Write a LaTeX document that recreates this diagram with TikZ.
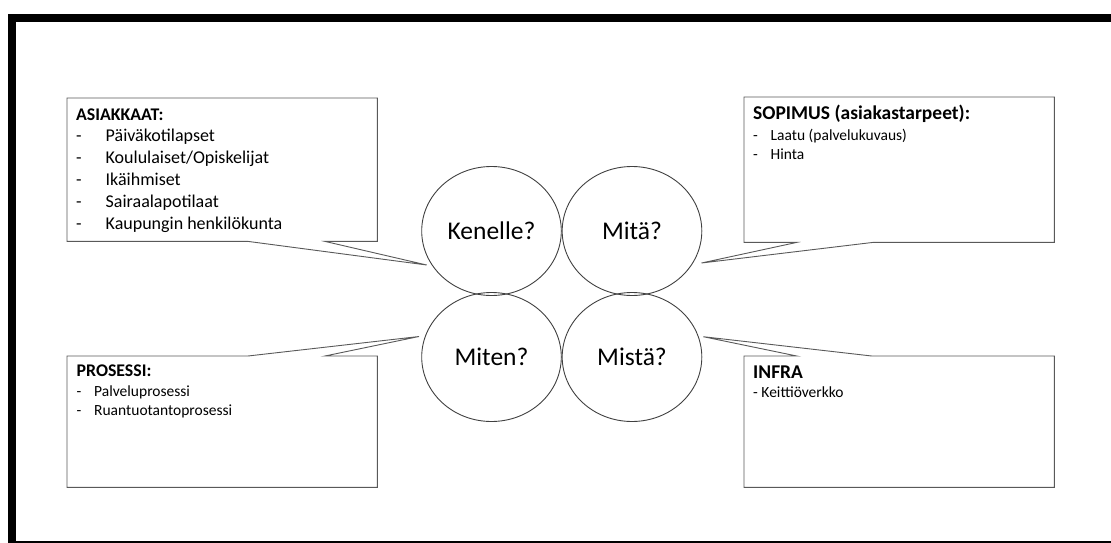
\documentclass[tikz,border=0pt]{standalone}
\usepackage{fontspec}
\setmainfont{Carlito}
\usetikzlibrary{calc,shapes.geometric}

\begin{document}
\begin{tikzpicture}[x=1pt,y=-1pt,
  question/.style={ellipse,draw=black!75,line width=0.9pt,minimum width=139.6pt,
    minimum height=129pt,inner sep=0pt,font=\fontsize{25.5}{30}\selectfont},
  card/.style={draw=none,fill=white,minimum width=310pt,inner sep=0pt,anchor=north west},
  outline/.style={draw=black!65,line width=0.9pt,fill=white,line join=miter},
  line/.style={anchor=base west,inner sep=0pt},
  big/.style={font=\fontsize{18}{22}\selectfont},
  bighead/.style={font=\bfseries\fontsize{17.8}{22}\selectfont},
  head/.style={font=\bfseries\fontsize{19.5}{22}\selectfont},
  small/.style={font=\fontsize{15.5}{18}\selectfont},
]
\useasboundingbox (0,0) rectangle (1111,543);
\clip (0,0) rectangle (1111,543);

% outer frame
\draw[line width=8pt] (12.2,18) rectangle (1125,544.7);

% four question bubbles
\node[question] (ken) at (491.5,231) {Kenelle?};
\node[question] (mit) at (632,231) {Mitä?};
\node[question] (mtn) at (491.5,357) {Miten?};
\node[question] (mst) at (632,357) {Mistä?};

% callout tips
\coordinate (tk) at (426.7,265);
\coordinate (tm) at (701.5,263);
\coordinate (tn) at (419,336.5);
\coordinate (ts) at (703.3,336.7);

% ASIAKKAAT callout
\node[card,minimum height=143pt] (asi) at (67,98) {};
\draw[outline] (asi.north west) -- (asi.north east) -- (asi.south east)
  -- ($(asi.south west)+(258,0)$) -- (tk) -- ($(asi.south west)+(181,0)$)
  -- (asi.south west) -- cycle;
\node[line,bighead] (asi0) at (76,120) {ASIAKKAAT:};
\node[line,big] (asi1) at (76,141.5) {\makebox[29.5pt][l]{-}Päiväkotilapset};
\node[line,big] (asi2) at (76,163.5) {\makebox[29.5pt][l]{-}Koululaiset/Opiskelijat};
\node[line,big] (asi3) at (76,185.5) {\makebox[29.5pt][l]{-}Ikäihmiset};
\node[line,big] (asi4) at (76,207.5) {\makebox[29.5pt][l]{-}Sairaalapotilaat};
\node[line,big] (asi5) at (76,229.5) {\makebox[29.5pt][l]{-}Kaupungin henkilökunta};

% SOPIMUS callout
\node[card,minimum height=145pt] (sop) at (744,97) {};
\draw[outline] (sop.north west) -- (sop.north east) -- (sop.south east)
  -- ($(sop.south west)+(129,0)$) -- (tm) -- ($(sop.south west)+(52.7,0)$)
  -- (sop.south west) -- cycle;
\node[line,head] (sop0) at (753,119.7) {SOPIMUS (asiakastarpeet):};
\node[line,small] (sop1) at (753,140.5) {\makebox[17.5pt][l]{-}Laatu (palvelukuvaus)};
\node[line,small] (sop2) at (753,159.2) {\makebox[17.5pt][l]{-}Hinta};

% PROSESSI callout
\node[card,minimum height=131pt] (pro) at (67,356) {};
\draw[outline] (pro.south west) -- (pro.south east) -- (pro.north east)
  -- ($(pro.north west)+(258,0)$) -- (tn) -- ($(pro.north west)+(181,0)$)
  -- (pro.north west) -- cycle;
\node[line,bighead] (pro0) at (76.5,376.7) {PROSESSI:};
\node[line,small] (pro1) at (76.5,396.7) {\makebox[17.5pt][l]{-}Palveluprosessi};
\node[line,small] (pro2) at (76.5,415) {\makebox[17.5pt][l]{-}Ruantuotantoprosessi};

% INFRA callout
\node[card,minimum height=131pt] (inf) at (744,356) {};
\draw[outline] (inf.south west) -- (inf.south east) -- (inf.north east)
  -- ($(inf.north west)+(127.7,0)$) -- (ts) -- ($(inf.north west)+(52.7,0)$)
  -- (inf.north west) -- cycle;
\node[line,head] (inf0) at (753,378) {INFRA};
\node[line,small] (inf1) at (753,397.3) {- Keittiöverkko};
\end{tikzpicture}
\end{document}
